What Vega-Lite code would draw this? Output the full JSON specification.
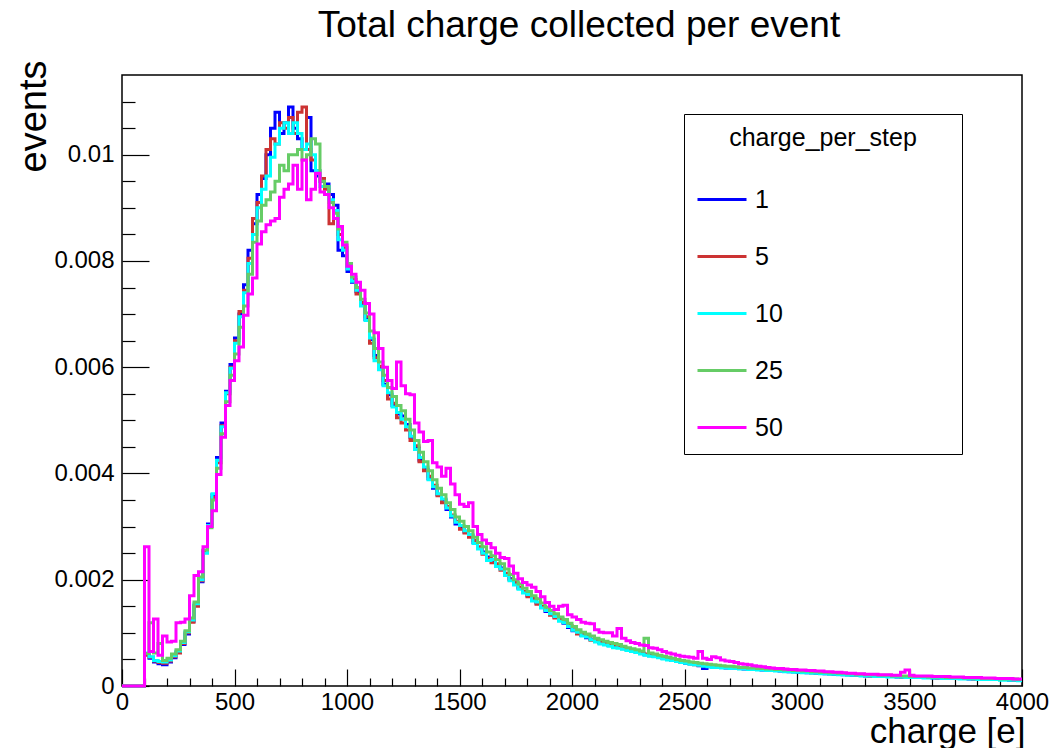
{
"$schema": "https://vega.github.io/schema/vega-lite/v6.json",
"width": 900,
"height": 611,
"autosize": {"type": "none"},
"padding": {"left": 122, "top": 75, "right": 31, "bottom": 62},
"background": "white",
"title": {"text": "Total charge collected per event", "fontSize": 37, "font": "Liberation Sans", "fontWeight": "normal", "color": "black", "anchor": "middle", "frame": "group", "offset": 15, "dx": 7},
"datasets": {"h": [
{"x":0,"1":0,"5":0,"10":0,"25":0,"50":0},
{"x":100,"1":0.0006,"5":0.00058,"10":0.00062,"25":0.00061,"50":0.00262},
{"x":120,"1":0.00052,"5":0.00054,"10":0.00055,"25":0.00119,"50":0.00065},
{"x":140,"1":0.00045,"5":0.00047,"10":0.00048,"25":0.00062,"50":0.00126},
{"x":160,"1":0.00042,"5":0.00044,"10":0.00046,"25":0.0008,"50":0.00058},
{"x":180,"1":0.0004,"5":0.00043,"10":0.00045,"25":0.00048,"50":0.00094},
{"x":200,"1":0.00045,"5":0.00047,"10":0.00049,"25":0.00052,"50":0.00083},
{"x":220,"1":0.00053,"5":0.00055,"10":0.00057,"25":0.0006,"50":0.00084},
{"x":240,"1":0.00064,"5":0.00062,"10":0.00066,"25":0.00068,"50":0.00119},
{"x":260,"1":0.00078,"5":0.0008,"10":0.00082,"25":0.00084,"50":0.0012},
{"x":280,"1":0.00098,"5":0.001,"10":0.00102,"25":0.00104,"50":0.00126},
{"x":300,"1":0.00122,"5":0.0012,"10":0.00124,"25":0.00128,"50":0.0017},
{"x":320,"1":0.00152,"5":0.0015,"10":0.00155,"25":0.00158,"50":0.00208},
{"x":340,"1":0.00196,"5":0.00198,"10":0.002,"25":0.00205,"50":0.00215},
{"x":360,"1":0.00252,"5":0.00255,"10":0.0025,"25":0.00256,"50":0.00262},
{"x":380,"1":0.00305,"5":0.003,"10":0.00302,"25":0.00298,"50":0.003},
{"x":400,"1":0.0036,"5":0.00355,"10":0.00362,"25":0.0035,"50":0.0033},
{"x":420,"1":0.0043,"5":0.0042,"10":0.00425,"25":0.0041,"50":0.00398},
{"x":440,"1":0.00495,"5":0.0049,"10":0.00488,"25":0.00475,"50":0.00468},
{"x":460,"1":0.00555,"5":0.0055,"10":0.00552,"25":0.00535,"50":0.00528},
{"x":480,"1":0.00605,"5":0.006,"10":0.00598,"25":0.00585,"50":0.00575},
{"x":500,"1":0.00655,"5":0.0065,"10":0.00645,"25":0.00625,"50":0.00612},
{"x":520,"1":0.007,"5":0.00705,"10":0.00695,"25":0.00675,"50":0.00638},
{"x":540,"1":0.00755,"5":0.00745,"10":0.0074,"25":0.00715,"50":0.00698},
{"x":560,"1":0.0082,"5":0.00805,"10":0.00795,"25":0.00775,"50":0.00738},
{"x":580,"1":0.0087,"5":0.0088,"10":0.0085,"25":0.00835,"50":0.00768},
{"x":600,"1":0.00925,"5":0.0091,"10":0.009,"25":0.00875,"50":0.00832},
{"x":620,"1":0.00955,"5":0.0096,"10":0.00935,"25":0.00905,"50":0.00855},
{"x":640,"1":0.01,"5":0.0101,"10":0.0096,"25":0.00915,"50":0.00868},
{"x":660,"1":0.0105,"5":0.0103,"10":0.00995,"25":0.0093,"50":0.00875},
{"x":680,"1":0.0108,"5":0.0102,"10":0.0102,"25":0.0095,"50":0.0088},
{"x":700,"1":0.0104,"5":0.0106,"10":0.0105,"25":0.0098,"50":0.0092},
{"x":720,"1":0.0106,"5":0.0105,"10":0.0106,"25":0.0097,"50":0.00935},
{"x":740,"1":0.0109,"5":0.0107,"10":0.0104,"25":0.01,"50":0.00945},
{"x":760,"1":0.0105,"5":0.0104,"10":0.0106,"25":0.01,"50":0.0098},
{"x":780,"1":0.0103,"5":0.0108,"10":0.0104,"25":0.0101,"50":0.00935},
{"x":800,"1":0.0101,"5":0.0109,"10":0.0101,"25":0.0099,"50":0.0099},
{"x":820,"1":0.0107,"5":0.0101,"10":0.0102,"25":0.01,"50":0.00915},
{"x":840,"1":0.0097,"5":0.0099,"10":0.01,"25":0.0103,"50":0.00935},
{"x":860,"1":0.0096,"5":0.0097,"10":0.0097,"25":0.0102,"50":0.00965},
{"x":880,"1":0.0095,"5":0.00955,"10":0.0094,"25":0.0095,"50":0.0093},
{"x":900,"1":0.00945,"5":0.00935,"10":0.0094,"25":0.0094,"50":0.00925},
{"x":920,"1":0.00925,"5":0.0087,"10":0.00915,"25":0.0091,"50":0.009},
{"x":940,"1":0.00905,"5":0.0088,"10":0.00895,"25":0.0089,"50":0.0088},
{"x":960,"1":0.0082,"5":0.0085,"10":0.0084,"25":0.0086,"50":0.00865},
{"x":980,"1":0.0081,"5":0.00825,"10":0.0082,"25":0.00835,"50":0.0083},
{"x":1000,"1":0.0078,"5":0.0079,"10":0.00785,"25":0.00795,"50":0.0079},
{"x":1020,"1":0.0076,"5":0.00765,"10":0.00762,"25":0.0077,"50":0.00775},
{"x":1040,"1":0.00742,"5":0.00738,"10":0.00745,"25":0.0075,"50":0.0076},
{"x":1060,"1":0.00718,"5":0.00722,"10":0.00715,"25":0.00728,"50":0.00745},
{"x":1080,"1":0.0069,"5":0.00695,"10":0.00688,"25":0.00702,"50":0.0072},
{"x":1100,"1":0.00652,"5":0.00645,"10":0.00655,"25":0.00668,"50":0.007},
{"x":1120,"1":0.00622,"5":0.00618,"10":0.00612,"25":0.00635,"50":0.00665},
{"x":1140,"1":0.00598,"5":0.00602,"10":0.00595,"25":0.0061,"50":0.00635},
{"x":1160,"1":0.00568,"5":0.00575,"10":0.00565,"25":0.00585,"50":0.006},
{"x":1180,"1":0.00548,"5":0.0054,"10":0.00552,"25":0.00562,"50":0.00575},
{"x":1200,"1":0.00528,"5":0.00532,"10":0.00525,"25":0.00545,"50":0.0056},
{"x":1220,"1":0.00512,"5":0.00505,"10":0.00515,"25":0.00528,"50":0.0061},
{"x":1240,"1":0.00508,"5":0.00495,"10":0.00502,"25":0.00518,"50":0.00565},
{"x":1260,"1":0.00492,"5":0.00482,"10":0.00488,"25":0.00502,"50":0.0055},
{"x":1280,"1":0.00468,"5":0.00462,"10":0.0047,"25":0.00482,"50":0.00548},
{"x":1300,"1":0.00448,"5":0.00452,"10":0.00445,"25":0.00462,"50":0.00495},
{"x":1320,"1":0.00425,"5":0.00422,"10":0.0043,"25":0.0044,"50":0.00478},
{"x":1340,"1":0.00408,"5":0.00405,"10":0.00412,"25":0.00422,"50":0.0046},
{"x":1360,"1":0.0039,"5":0.00395,"10":0.00388,"25":0.00405,"50":0.00462},
{"x":1380,"1":0.00372,"5":0.00378,"10":0.00375,"25":0.00388,"50":0.0042},
{"x":1400,"1":0.0036,"5":0.00358,"10":0.00362,"25":0.00372,"50":0.00412},
{"x":1420,"1":0.0035,"5":0.00345,"10":0.00352,"25":0.0036,"50":0.00395},
{"x":1440,"1":0.00332,"5":0.00338,"10":0.00335,"25":0.00345,"50":0.0041},
{"x":1460,"1":0.00318,"5":0.00322,"10":0.0032,"25":0.00332,"50":0.0038},
{"x":1480,"1":0.00305,"5":0.0031,"10":0.00308,"25":0.00318,"50":0.0036},
{"x":1500,"1":0.00298,"5":0.00295,"10":0.00302,"25":0.0031,"50":0.00342},
{"x":1520,"1":0.0029,"5":0.00288,"10":0.00292,"25":0.003,"50":0.00338},
{"x":1540,"1":0.00283,"5":0.0028,"10":0.00285,"25":0.00292,"50":0.00345},
{"x":1560,"1":0.0027,"5":0.00274,"10":0.00268,"25":0.0028,"50":0.003},
{"x":1580,"1":0.0026,"5":0.00262,"10":0.00258,"25":0.0027,"50":0.00285},
{"x":1600,"1":0.00252,"5":0.00248,"10":0.0025,"25":0.00262,"50":0.00275},
{"x":1620,"1":0.00243,"5":0.0024,"10":0.00236,"25":0.00252,"50":0.00268},
{"x":1640,"1":0.00236,"5":0.00232,"10":0.00238,"25":0.00245,"50":0.0026},
{"x":1660,"1":0.00228,"5":0.0023,"10":0.00225,"25":0.00238,"50":0.0025},
{"x":1680,"1":0.00222,"5":0.00218,"10":0.0022,"25":0.0023,"50":0.00242},
{"x":1700,"1":0.0021,"5":0.00212,"10":0.00208,"25":0.0022,"50":0.0024},
{"x":1720,"1":0.00202,"5":0.002,"10":0.00198,"25":0.0021,"50":0.00226},
{"x":1740,"1":0.00192,"5":0.00195,"10":0.0019,"25":0.002,"50":0.00212},
{"x":1760,"1":0.00184,"5":0.00186,"10":0.00182,"25":0.00192,"50":0.00202},
{"x":1780,"1":0.00176,"5":0.00178,"10":0.00175,"25":0.00184,"50":0.00195},
{"x":1800,"1":0.0017,"5":0.00168,"10":0.00172,"25":0.00178,"50":0.0019},
{"x":1820,"1":0.00163,"5":0.00165,"10":0.0016,"25":0.0017,"50":0.00186},
{"x":1840,"1":0.00156,"5":0.00154,"10":0.00158,"25":0.00164,"50":0.00178},
{"x":1860,"1":0.00149,"5":0.0015,"10":0.00147,"25":0.00156,"50":0.00168},
{"x":1880,"1":0.0014,"5":0.00143,"10":0.00142,"25":0.00148,"50":0.00157},
{"x":1900,"1":0.00135,"5":0.00133,"10":0.00136,"25":0.00142,"50":0.0015},
{"x":1920,"1":0.0013,"5":0.00128,"10":0.00131,"25":0.00136,"50":0.00144},
{"x":1940,"1":0.00124,"5":0.00126,"10":0.00122,"25":0.0013,"50":0.0015},
{"x":1960,"1":0.00118,"5":0.0012,"10":0.00119,"25":0.00125,"50":0.00152},
{"x":1980,"1":0.0011,"5":0.00114,"10":0.00112,"25":0.00118,"50":0.00134},
{"x":2000,"1":0.00104,"5":0.00106,"10":0.00105,"25":0.00112,"50":0.0013},
{"x":2020,"1":0.001,"5":0.00098,"10":0.00101,"25":0.00106,"50":0.00125},
{"x":2040,"1":0.00095,"5":0.00097,"10":0.00094,"25":0.00101,"50":0.0012},
{"x":2060,"1":0.00091,"5":0.00093,"10":0.00092,"25":0.00098,"50":0.00118},
{"x":2080,"1":0.00088,"5":0.00086,"10":0.00087,"25":0.00094,"50":0.00117},
{"x":2100,"1":0.00084,"5":0.00085,"10":0.00083,"25":0.0009,"50":0.00106},
{"x":2120,"1":0.00081,"5":0.00082,"10":0.00079,"25":0.00087,"50":0.00101},
{"x":2140,"1":0.00078,"5":0.0008,"10":0.00077,"25":0.00084,"50":0.001},
{"x":2160,"1":0.00077,"5":0.00076,"10":0.00075,"25":0.00082,"50":0.001},
{"x":2180,"1":0.00075,"5":0.00077,"10":0.00072,"25":0.0008,"50":0.00094},
{"x":2200,"1":0.00073,"5":0.00074,"10":0.00071,"25":0.00078,"50":0.00108},
{"x":2220,"1":0.00071,"5":0.0007,"10":0.00069,"25":0.00075,"50":0.0009},
{"x":2240,"1":0.00069,"5":0.00068,"10":0.00067,"25":0.00072,"50":0.00085},
{"x":2260,"1":0.00067,"5":0.00066,"10":0.00065,"25":0.0007,"50":0.00082},
{"x":2280,"1":0.00064,"5":0.00065,"10":0.00063,"25":0.00068,"50":0.0008},
{"x":2300,"1":0.00061,"5":0.00062,"10":0.0006,"25":0.00066,"50":0.00077},
{"x":2320,"1":0.00059,"5":0.0006,"10":0.00058,"25":0.0009,"50":0.00076},
{"x":2340,"1":0.00058,"5":0.00057,"10":0.00056,"25":0.00062,"50":0.00072},
{"x":2360,"1":0.00056,"5":0.00056,"10":0.00055,"25":0.0006,"50":0.00071},
{"x":2380,"1":0.00054,"5":0.00055,"10":0.00053,"25":0.00058,"50":0.00068},
{"x":2400,"1":0.00052,"5":0.00053,"10":0.00051,"25":0.00056,"50":0.00065},
{"x":2420,"1":0.0005,"5":0.00051,"10":0.00049,"25":0.00054,"50":0.00062},
{"x":2440,"1":0.00048,"5":0.00049,"10":0.00048,"25":0.00052,"50":0.0006},
{"x":2460,"1":0.00046,"5":0.00047,"10":0.00046,"25":0.0005,"50":0.00058},
{"x":2480,"1":0.00045,"5":0.00045,"10":0.00044,"25":0.00048,"50":0.00056},
{"x":2500,"1":0.00043,"5":0.00044,"10":0.00043,"25":0.00047,"50":0.00055},
{"x":2520,"1":0.00042,"5":0.00042,"10":0.00041,"25":0.00045,"50":0.00054},
{"x":2540,"1":0.00041,"5":0.0004,"10":0.0004,"25":0.00044,"50":0.00052},
{"x":2560,"1":0.00038,"5":0.00039,"10":0.00039,"25":0.00043,"50":0.00065},
{"x":2580,"1":0.00033,"5":0.00038,"10":0.00037,"25":0.00042,"50":0.00052},
{"x":2600,"1":0.00036,"5":0.00037,"10":0.00036,"25":0.00041,"50":0.0005},
{"x":2620,"1":0.00036,"5":0.00036,"10":0.00035,"25":0.0004,"50":0.00055},
{"x":2640,"1":0.00035,"5":0.00036,"10":0.00035,"25":0.00039,"50":0.00053},
{"x":2660,"1":0.00035,"5":0.00035,"10":0.00034,"25":0.00038,"50":0.00049},
{"x":2680,"1":0.00034,"5":0.00035,"10":0.00034,"25":0.00037,"50":0.00047},
{"x":2700,"1":0.00034,"5":0.00034,"10":0.00033,"25":0.00037,"50":0.00046},
{"x":2720,"1":0.00033,"5":0.00034,"10":0.00033,"25":0.00036,"50":0.00044},
{"x":2740,"1":0.00033,"5":0.00033,"10":0.00032,"25":0.00035,"50":0.00042},
{"x":2760,"1":0.00032,"5":0.00033,"10":0.00032,"25":0.00035,"50":0.00041},
{"x":2780,"1":0.00032,"5":0.00032,"10":0.00031,"25":0.00034,"50":0.0004},
{"x":2800,"1":0.00031,"5":0.00032,"10":0.00031,"25":0.00034,"50":0.00038},
{"x":2820,"1":0.00031,"5":0.00031,"10":0.0003,"25":0.00033,"50":0.00037},
{"x":2840,"1":0.0003,"5":0.00031,"10":0.0003,"25":0.00033,"50":0.00036},
{"x":2860,"1":0.0003,"5":0.0003,"10":0.00029,"25":0.00032,"50":0.00035},
{"x":2880,"1":0.00029,"5":0.0003,"10":0.00029,"25":0.00032,"50":0.00034},
{"x":2900,"1":0.00029,"5":0.00029,"10":0.00028,"25":0.00031,"50":0.00033},
{"x":2920,"1":0.00028,"5":0.00029,"10":0.00028,"25":0.00031,"50":0.00033},
{"x":2940,"1":0.00028,"5":0.00028,"10":0.00027,"25":0.0003,"50":0.00032},
{"x":2960,"1":0.00027,"5":0.00028,"10":0.00027,"25":0.0003,"50":0.00031},
{"x":2980,"1":0.00027,"5":0.00027,"10":0.00026,"25":0.00029,"50":0.00031},
{"x":3000,"1":0.00026,"5":0.00027,"10":0.00026,"25":0.00029,"50":0.0003},
{"x":3020,"1":0.00026,"5":0.00026,"10":0.00025,"25":0.00028,"50":0.0003},
{"x":3040,"1":0.00025,"5":0.00026,"10":0.00025,"25":0.00028,"50":0.00029},
{"x":3060,"1":0.00025,"5":0.00025,"10":0.00024,"25":0.00027,"50":0.00029},
{"x":3080,"1":0.00024,"5":0.00025,"10":0.00024,"25":0.00027,"50":0.00028},
{"x":3100,"1":0.00024,"5":0.00024,"10":0.00023,"25":0.00026,"50":0.00028},
{"x":3120,"1":0.00023,"5":0.00024,"10":0.00023,"25":0.00026,"50":0.00027},
{"x":3140,"1":0.00023,"5":0.00023,"10":0.00022,"25":0.00025,"50":0.00027},
{"x":3160,"1":0.00022,"5":0.00023,"10":0.00022,"25":0.00025,"50":0.00026},
{"x":3180,"1":0.00022,"5":0.00022,"10":0.00021,"25":0.00024,"50":0.00026},
{"x":3200,"1":0.00021,"5":0.00022,"10":0.00021,"25":0.00024,"50":0.00025},
{"x":3220,"1":0.00021,"5":0.00021,"10":0.0002,"25":0.00023,"50":0.00024},
{"x":3240,"1":0.0002,"5":0.00021,"10":0.0002,"25":0.00023,"50":0.00024},
{"x":3260,"1":0.0002,"5":0.0002,"10":0.0002,"25":0.00022,"50":0.00023},
{"x":3280,"1":0.0002,"5":0.0002,"10":0.00019,"25":0.00022,"50":0.00023},
{"x":3300,"1":0.00019,"5":0.0002,"10":0.00019,"25":0.00021,"50":0.00022},
{"x":3320,"1":0.00019,"5":0.00019,"10":0.00019,"25":0.00021,"50":0.00022},
{"x":3340,"1":0.00019,"5":0.00019,"10":0.00018,"25":0.00021,"50":0.00022},
{"x":3360,"1":0.00018,"5":0.00019,"10":0.00018,"25":0.0002,"50":0.00021},
{"x":3380,"1":0.00018,"5":0.00018,"10":0.00018,"25":0.0002,"50":0.00021},
{"x":3400,"1":0.00018,"5":0.00018,"10":0.00017,"25":0.0002,"50":0.00021},
{"x":3420,"1":0.00018,"5":0.00018,"10":0.00017,"25":0.00019,"50":0.0002},
{"x":3440,"1":0.00017,"5":0.00018,"10":0.00017,"25":0.00019,"50":0.0002},
{"x":3460,"1":0.00017,"5":0.00017,"10":0.00017,"25":0.00019,"50":0.00026},
{"x":3480,"1":0.00017,"5":0.00017,"10":0.00016,"25":0.00019,"50":0.0003},
{"x":3500,"1":0.00017,"5":0.00017,"10":0.00016,"25":0.00018,"50":0.0002},
{"x":3520,"1":0.00016,"5":0.00017,"10":0.00016,"25":0.00018,"50":0.00019},
{"x":3540,"1":0.00016,"5":0.00016,"10":0.00016,"25":0.00018,"50":0.00019},
{"x":3560,"1":0.00016,"5":0.00016,"10":0.00015,"25":0.00018,"50":0.00019},
{"x":3580,"1":0.00016,"5":0.00016,"10":0.00015,"25":0.00017,"50":0.00019},
{"x":3600,"1":0.00015,"5":0.00016,"10":0.00015,"25":0.00017,"50":0.00018},
{"x":3620,"1":0.00015,"5":0.00015,"10":0.00015,"25":0.00017,"50":0.00018},
{"x":3640,"1":0.00015,"5":0.00015,"10":0.00014,"25":0.00017,"50":0.00018},
{"x":3660,"1":0.00015,"5":0.00015,"10":0.00014,"25":0.00016,"50":0.00018},
{"x":3680,"1":0.00014,"5":0.00015,"10":0.00014,"25":0.00016,"50":0.00017},
{"x":3700,"1":0.00014,"5":0.00014,"10":0.00014,"25":0.00016,"50":0.00017},
{"x":3720,"1":0.00014,"5":0.00014,"10":0.00013,"25":0.00016,"50":0.00017},
{"x":3740,"1":0.00014,"5":0.00014,"10":0.00013,"25":0.00015,"50":0.00016},
{"x":3760,"1":0.00013,"5":0.00014,"10":0.00013,"25":0.00015,"50":0.00016},
{"x":3780,"1":0.00013,"5":0.00013,"10":0.00013,"25":0.00015,"50":0.00016},
{"x":3800,"1":0.00013,"5":0.00013,"10":0.00012,"25":0.00015,"50":0.00016},
{"x":3820,"1":0.00013,"5":0.00013,"10":0.00012,"25":0.00014,"50":0.00015},
{"x":3840,"1":0.00013,"5":0.00013,"10":0.00012,"25":0.00014,"50":0.00015},
{"x":3860,"1":0.00012,"5":0.00012,"10":0.00012,"25":0.00014,"50":0.00015},
{"x":3880,"1":0.00012,"5":0.00012,"10":0.00012,"25":0.00014,"50":0.00014},
{"x":3900,"1":0.00012,"5":0.00012,"10":0.00011,"25":0.00013,"50":0.00014},
{"x":3920,"1":0.00012,"5":0.00012,"10":0.00011,"25":0.00013,"50":0.00014},
{"x":3940,"1":0.00011,"5":0.00012,"10":0.00011,"25":0.00013,"50":0.00014},
{"x":3960,"1":0.00011,"5":0.00011,"10":0.00011,"25":0.00013,"50":0.00013},
{"x":3980,"1":0.00011,"5":0.00011,"10":0.0001,"25":0.00012,"50":0.00013},
{"x":4000,"1":0.00011,"5":0.00011,"10":0.0001,"25":0.00012,"50":0.00013}
],
"minor": [{"mx": 0, "my": 0}]
},
"layer": [
{
"data": {"name": "minor"},
"mark": {"type": "point", "opacity": 0},
"encoding": {
"x": {"field": "mx", "type": "quantitative", "scale": {"domain": [0, 4000], "nice": false, "zero": false},
"axis": {"orient": "bottom", "title": null, "labels": false, "domain": false, "grid": false, "tickSize": -8, "tickWidth": 1.2, "tickColor": "black",
"values": [100,200,300,400,600,700,800,900,1100,1200,1300,1400,1600,1700,1800,1900,2100,2200,2300,2400,2600,2700,2800,2900,3100,3200,3300,3400,3600,3700,3800,3900]}},
"y": {"field": "my", "type": "quantitative", "scale": {"domain": [0, 0.0115], "nice": false, "zero": false},
"axis": {"orient": "left", "title": null, "labels": false, "domain": false, "grid": false, "tickSize": -13, "tickWidth": 1.2, "tickColor": "black",
"values": [0.0005,0.001,0.0015,0.0025,0.003,0.0035,0.0045,0.005,0.0055,0.0065,0.007,0.0075,0.0085,0.009,0.0095,0.0105,0.011]}}
}
},
{
"data": {"name": "h"},
"transform": [{"fold": ["1", "5", "10", "25", "50"], "as": ["step", "v"]}],
"mark": {"type": "line", "interpolate": "step-after", "strokeWidth": 3, "strokeJoin": "miter", "strokeCap": "butt"},
"encoding": {
"x": {"field": "x", "type": "quantitative",
"axis": {"orient": "bottom", "title": "charge [e]", "values": [0,500,1000,1500,2000,2500,3000,3500,4000], "format": "d",
"domain": false, "grid": false, "tickSize": -17, "tickWidth": 1.2, "tickColor": "black",
"labelFontSize": 24, "labelFont": "Liberation Sans", "labelColor": "black", "labelPadding": 21, "labelFlush": false, "labelOverlap": false,
"titleFontSize": 35, "titleFont": "Liberation Sans", "titleFontWeight": "normal", "titleColor": "black",
"titleX": 903, "titleY": 56, "titleAlign": "right", "titleBaseline": "alphabetic", "titleAnchor": null}},
"y": {"field": "v", "type": "quantitative",
"axis": {"orient": "left", "title": "events", "values": [0,0.002,0.004,0.006,0.008,0.01], "format": "~g",
"domain": false, "grid": false, "tickSize": -27, "tickWidth": 1.2, "tickColor": "black",
"labelFontSize": 24, "labelFont": "Liberation Sans", "labelColor": "black", "labelPadding": 35, "labelFlush": false, "labelOverlap": false,
"titleFontSize": 38, "titleFont": "Liberation Sans", "titleFontWeight": "normal", "titleColor": "black",
"titleAngle": -90, "titleX": -77, "titleY": -15, "titleAlign": "right", "titleBaseline": "alphabetic", "titleAnchor": null}},
"color": {"field": "step", "type": "nominal",
"scale": {"domain": ["1", "5", "10", "25", "50"], "range": ["#0000ff", "#cc3333", "#00ffff", "#66cc66", "#ff00ff"]},
"legend": {"title": "charge_per_step", "orient": "none", "legendX": 562, "legendY": 39,
"strokeColor": "black", "fillColor": "white", "padding": 12,
"symbolType": "stroke", "symbolSize": 2401, "symbolStrokeWidth": 3, "clipHeight": 29, "rowPadding": 28,
"labelFontSize": 25, "labelFont": "Liberation Sans", "labelColor": "black", "labelOffset": 7, "labelLimit": 400,
"labelExpr": "pad(datum.label, 26, '\u00a0') + '\u200b'",
"titleFontSize": 25, "titleFont": "Liberation Sans", "titleFontWeight": "normal", "titleColor": "black", "titleAnchor": "middle", "titlePadding": 34, "titleLimit": 400}}
}
}
],
"resolve": {"axis": {"x": "independent", "y": "independent"}},
"config": {"view": {"stroke": "black", "strokeWidth": 1.5}}
}
